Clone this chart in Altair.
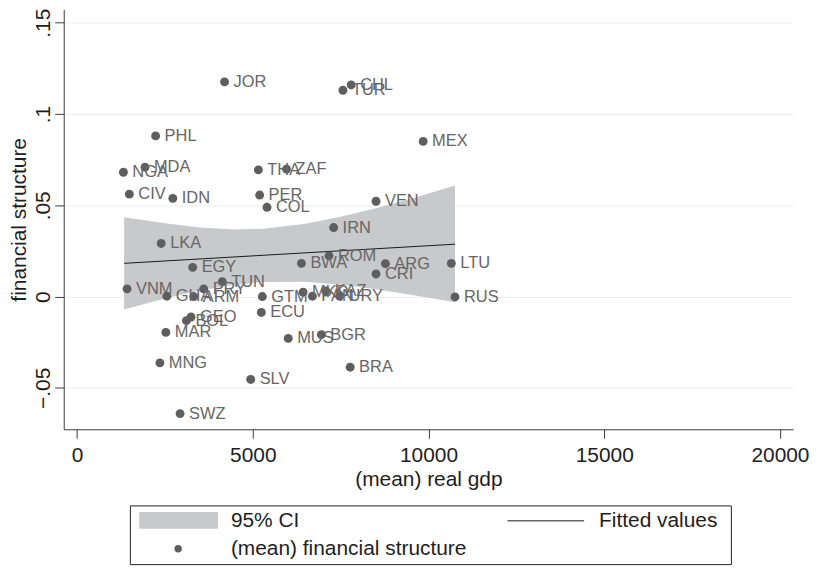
import altair as alt
import pandas as pd

# ---- data ----
countries = ["JOR", "CHL", "TUR", "PHL", "MEX", "NGA", "MDA", "THA", "ZAF", "CIV",
             "IDN", "PER", "COL", "VEN", "IRN", "ROM", "BWA", "ARG", "CRI", "LTU",
             "RUS", "MKD", "KAZ", "PAN", "URY", "GTM", "ECU", "MUS", "BGR", "BRA",
             "SLV", "SWZ", "MNG", "MAR", "GEO", "BOL", "VNM", "GHA", "ARM", "PRY",
             "TUN", "EGY", "LKA"]
gdp = [4197, 7800, 7565, 2236, 9848, 1319, 1933, 5159, 5960, 1489,
       2725, 5196, 5405, 8507, 7301, 7168, 6385, 8773, 8507, 10649,
       10754, 6433, 7075, 6696, 7470, 5272, 5244, 6008, 6951, 7771,
       4941, 2932, 2357, 2527, 3243, 3113, 1423, 2555, 3320, 3603,
       4132, 3291, 2394]
fin = [0.1176, 0.1159, 0.1130, 0.0880, 0.0850, 0.0681, 0.0709, 0.0694, 0.0698, 0.0561,
       0.0538, 0.0556, 0.0489, 0.0522, 0.0378, 0.0223, 0.0182, 0.0180, 0.0124, 0.0182,
       -0.0002, 0.0024, 0.0031, 0.0002, 0.0002, 0.0000, -0.0087, -0.0229, -0.0209, -0.0387,
       -0.0454, -0.0641, -0.0363, -0.0196, -0.0112, -0.0132, 0.0042, 0.0002, 0.0000, 0.0042,
       0.0082, 0.0160, 0.0291]

band_x = [1339, 2500, 3500, 4500, 5300, 6500, 7500, 8500, 9500, 10754]
band_lo = [-0.0071, -0.0011, 0.0033, 0.0066, 0.0080, 0.0081, 0.0065, 0.0040, 0.0010, -0.0031]
band_hi = [0.0435, 0.0401, 0.0379, 0.0368, 0.0372, 0.0399, 0.0437, 0.0484, 0.0536, 0.0609]

fit_x = [1339, 10754]
fit_y = [0.0182, 0.0287]

x_ticks = [0, 5000, 10000, 15000, 20000]
y_ticks = [-0.05, 0, 0.05, 0.1, 0.15]
legend_labels = ["95% CI", "Fitted values", "(mean) financial structure"]

# ---- tables ----
pts = pd.DataFrame({"country": countries, "gdp": gdp, "fin": fin})
band = pd.DataFrame({"gdp": band_x, "lo": band_lo, "hi": band_hi})
fit = pd.DataFrame({"gdp": fit_x, "fin": fit_y})

W, H = 733, 422
FONT = "Liberation Sans"
FS = 21
AX = "#3a3a3a"
TXT = "#1e1e1e"

xs = alt.Scale(domain=[-379, 20373], nice=False, zero=False)
ys = alt.Scale(domain=[-0.0727, 0.1573], nice=False, zero=False)

x_axis = alt.Axis(values=x_ticks, format="d", grid=False, tickSize=9,
                  labelFont=FONT, labelFontSize=FS, labelColor=TXT,
                  labelPadding=6, title="(mean) real gdp", titleFont=FONT,
                  titleFontSize=FS, titleFontWeight="normal", titleColor=TXT,
                  titlePadding=3, domainColor=AX, tickColor=AX, labelFlush=False)
y_axis = alt.Axis(values=y_ticks, grid=True, gridColor="#ededed", tickSize=9,
                  labelExpr="replace(format(datum.value, '.2~f'), '0.', '.')",
                  labelAngle=270, labelAlign="center", labelBaseline="alphabetic",
                  labelPadding=5, labelFont=FONT, labelFontSize=FS,
                  labelColor=TXT, title="financial structure", titleFont=FONT,
                  titleFontSize=FS, titleFontWeight="normal", titleColor=TXT,
                  titleAngle=270, titleBaseline="alphabetic", titleAlign="center",
                  titleX=-38, titleY=H / 2, domainColor=AX, tickColor=AX,
                  labelFlush=False)

band_layer = alt.Chart(band).mark_area(color="#c8c9cb", opacity=1).encode(
    x=alt.X("gdp:Q", scale=xs, axis=x_axis),
    y=alt.Y("lo:Q", scale=ys, axis=y_axis),
    y2="hi:Q",
)
fit_layer = alt.Chart(fit).mark_line(color="#1a1a1a", strokeWidth=1).encode(
    x=alt.X("gdp:Q", scale=xs), y=alt.Y("fin:Q", scale=ys)
)
pt_layer = alt.Chart(pts).mark_circle(size=80, color="#5e5e5e", opacity=1).encode(
    x=alt.X("gdp:Q", scale=xs), y=alt.Y("fin:Q", scale=ys)
)
lab_layer = alt.Chart(pts).mark_text(align="left", baseline="middle", dx=9,
                                     font=FONT, fontSize=16.5, color="#666666").encode(
    x=alt.X("gdp:Q", scale=xs), y=alt.Y("fin:Q", scale=ys), text="country:N"
)

# ---- legend (drawn below the plot, in pixel space) ----
one = pd.DataFrame({"k": [0]})
leg_box = alt.Chart(one).mark_rect(fill="white", stroke="#222222", strokeWidth=1).encode(
    x=alt.value(67), x2=alt.value(671), y=alt.value(499), y2=alt.value(558))
leg_sw = alt.Chart(one).mark_rect(fill="#c8c9cb").encode(
    x=alt.value(76), x2=alt.value(155), y=alt.value(505), y2=alt.value(522))
leg_line = alt.Chart(one).mark_rule(color="#1a1a1a", strokeWidth=1).encode(
    x=alt.value(446), x2=alt.value(523), y=alt.value(514))
leg_dot = alt.Chart(one).mark_circle(size=55, color="#5e5e5e", opacity=1).encode(
    x=alt.value(115), y=alt.value(542))
leg_t1 = alt.Chart(pd.DataFrame({"t": [legend_labels[0]]})).mark_text(
    align="left", baseline="middle", font=FONT, fontSize=FS, color=TXT).encode(
    x=alt.value(168), y=alt.value(514), text="t:N")
leg_t2 = alt.Chart(pd.DataFrame({"t": [legend_labels[1]]})).mark_text(
    align="left", baseline="middle", font=FONT, fontSize=FS, color=TXT).encode(
    x=alt.value(538), y=alt.value(514), text="t:N")
leg_t3 = alt.Chart(pd.DataFrame({"t": [legend_labels[2]]})).mark_text(
    align="left", baseline="middle", font=FONT, fontSize=FS, color=TXT).encode(
    x=alt.value(168), y=alt.value(542), text="t:N")

chart = alt.layer(
    band_layer, fit_layer, pt_layer, lab_layer,
    leg_box, leg_sw, leg_line, leg_dot, leg_t1, leg_t2, leg_t3
).properties(
    width=W, height=H,
    autosize=alt.AutoSizeParams(type="none"),
    padding={"left": 56, "top": 0, "right": 16, "bottom": 138},
    background="white",
).configure_view(stroke=None)

chart.save("out.html", embed_options={"renderer": "svg", "actions": False})
